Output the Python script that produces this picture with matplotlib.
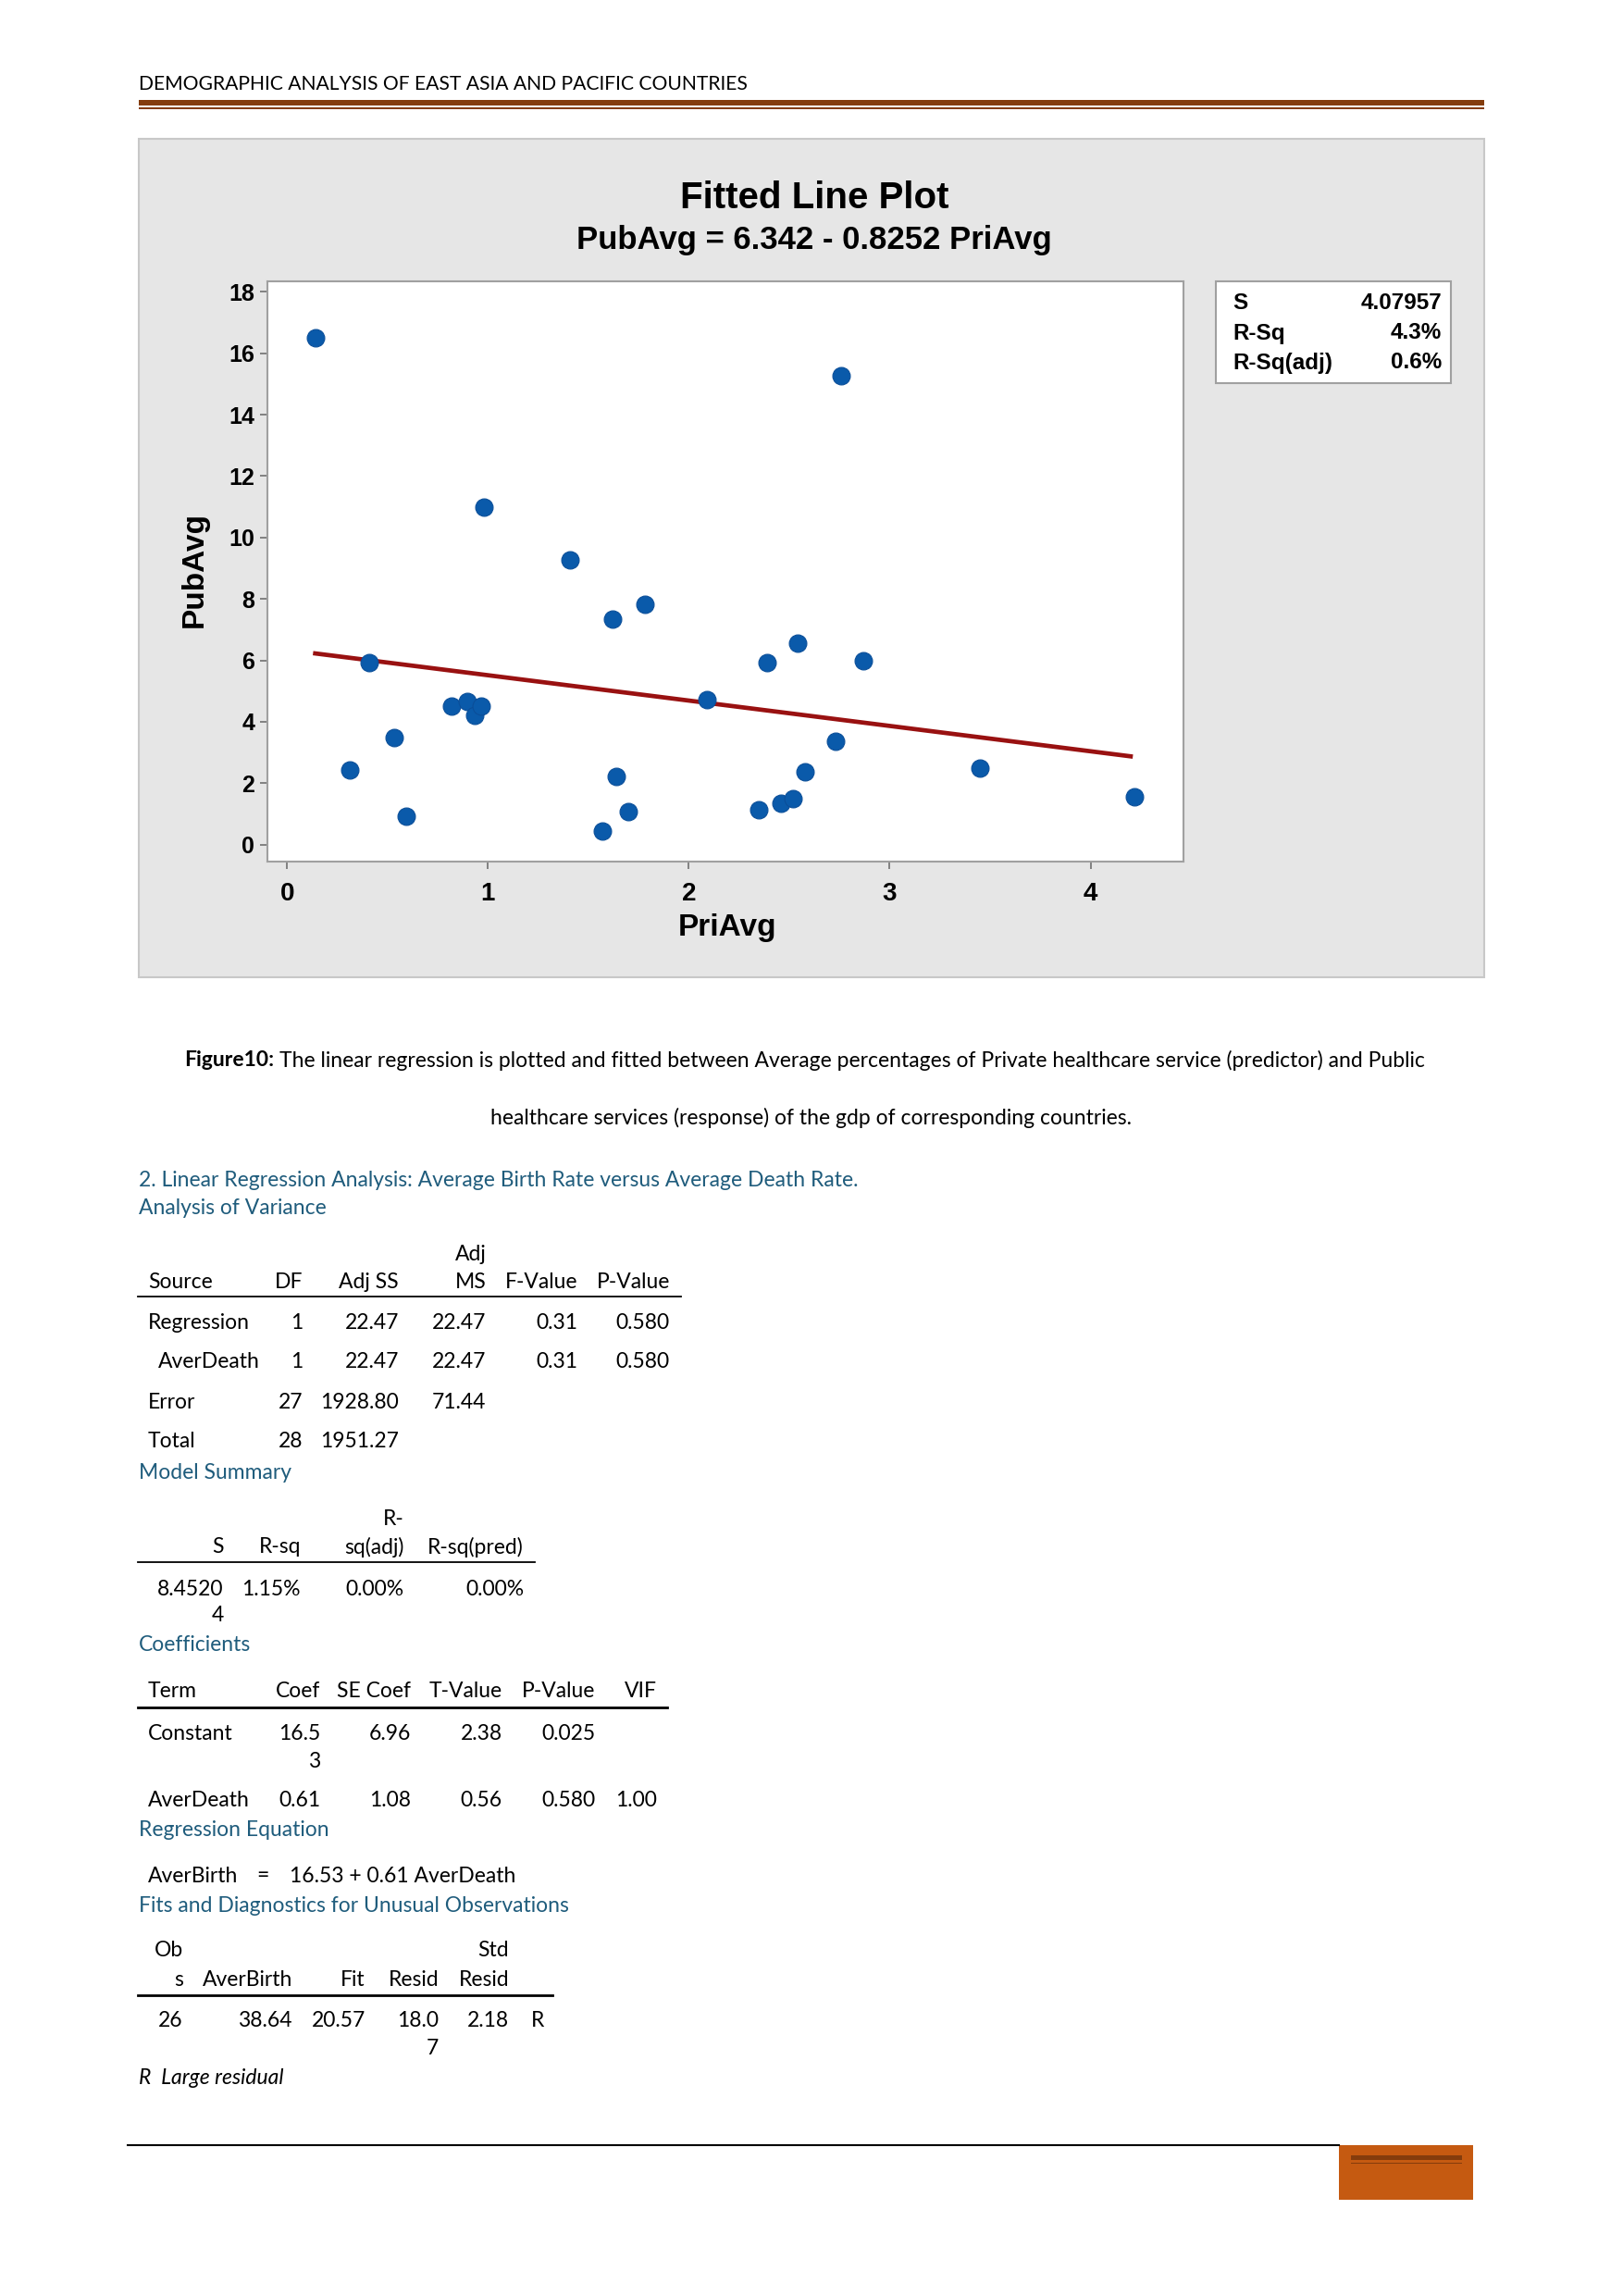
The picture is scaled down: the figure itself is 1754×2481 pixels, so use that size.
import matplotlib
matplotlib.use("Agg")
import matplotlib.pyplot as plt
from matplotlib.patches import Rectangle
import numpy as np

# scatter data
pri_avg = [0.14, 0.31, 0.41, 0.535, 0.595, 0.82, 0.896, 0.934, 0.968, 0.98,
           1.41, 1.57, 1.62, 1.64, 1.70, 1.78, 2.09, 2.35, 2.39, 2.46,
           2.52, 2.54, 2.58, 2.73, 2.76, 2.87, 3.45, 4.22]
pub_avg = [16.49, 2.42, 5.92, 3.49, 0.93, 4.50, 4.67, 4.20, 4.50, 11.0,
           9.27, 0.43, 7.35, 2.21, 1.07, 7.84, 4.72, 1.14, 5.92, 1.35,
           1.51, 6.57, 2.37, 3.36, 15.28, 5.99, 2.49, 1.56]
intercept = 6.342
slope = -0.8252
stats_labels = ["S", "R-Sq", "R-Sq(adj)"]
stats_values = ["4.07957", "4.3%", "0.6%"]

# tables from the page
anova_header = ["Source", "DF", "Adj SS", "MS", "F-Value", "P-Value"]
anova_rows = [["Regression", "1", "22.47", "22.47", "0.31", "0.580"],
              ["AverDeath", "1", "22.47", "22.47", "0.31", "0.580"],
              ["Error", "27", "1928.80", "71.44", "", ""],
              ["Total", "28", "1951.27", "", "", ""]]
summary_header = ["S", "R-sq", "sq(adj)", "R-sq(pred)"]
summary_row = ["8.4520", "1.15%", "0.00%", "0.00%"]
coef_header = ["Term", "Coef", "SE Coef", "T-Value", "P-Value", "VIF"]
coef_rows = [["Constant", "16.5", "6.96", "2.38", "0.025", ""],
             ["AverDeath", "0.61", "1.08", "0.56", "0.580", "1.00"]]
unusual_header = ["s", "AverBirth", "Fit", "Resid", "Resid"]
unusual_row = ["26", "38.64", "20.57", "18.0", "2.18"]

W, H = 1754, 2481
BODY = "Lato"
FS = 16.5
HEAD = "#1F5C7C"
CHART_FONT = "Liberation Sans"

fig = plt.figure(figsize=(W / 100, H / 100), dpi=100)
page = fig.add_axes([0, 0, 1, 1])
page.set_xlim(0, W)
page.set_ylim(H, 0)
page.axis("off")


def put(x, y, s, ha="left", size=FS, **kw):
    kw.setdefault("family", BODY)
    return page.text(x, y, s, ha=ha, va="center", fontsize=size, **kw)


# header
put(150, 91, "DEMOGRAPHIC ANALYSIS OF EAST ASIA AND PACIFIC COUNTRIES", size=15.2)
page.add_patch(Rectangle((150, 108), 1454, 6, color="#843C0C", lw=0))
page.add_patch(Rectangle((150, 115.5), 1454, 2, color="#843C0C", lw=0))

# grey chart frame
page.add_patch(Rectangle((150, 150), 1454, 906, facecolor="#E6E6E6",
                         edgecolor="#C8C8C8", lw=1.5))
put(880, 214, "Fitted Line Plot", ha="center", size=29, weight="bold", family=CHART_FONT)
put(880, 259, "PubAvg = 6.342 - 0.8252 PriAvg", ha="center", size=25,
    weight="bold", family=CHART_FONT)

# stats box
page.add_patch(Rectangle((1314, 304), 254, 110, facecolor="white",
                         edgecolor="#A0A0A0", lw=1.5))
for i, (lab, val) in enumerate(zip(stats_labels, stats_values)):
    yy = 328 + i * 32
    put(1332, yy, lab, size=17.5, weight="bold", family=CHART_FONT)
    put(1558, yy, val, ha="right", size=17.5, weight="bold", family=CHART_FONT)

# the scatter plot itself
ax = fig.add_axes([289 / W, 1 - 931 / H, (1279 - 289) / W, (931 - 304) / H])
ax.set_facecolor("white")
ax.scatter(pri_avg, pub_avg, s=185, color="#0A5AAA", edgecolor="#0A4E99",
           linewidth=0.8, zorder=3)
xf = np.array([min(pri_avg), 4.2])
ax.plot(xf, intercept + slope * xf, color="#991111", lw=3.4, zorder=2)
ax.set_xlim(-0.098, 4.463)
ax.set_ylim(-0.55, 18.34)
ax.set_xticks([0, 1, 2, 3, 4])
ax.set_yticks(range(0, 19, 2))
for sp in ax.spines.values():
    sp.set_color("#A0A0A0")
    sp.set_linewidth(1.5)
ax.tick_params(colors="#707070", length=6, width=1.2)
ax.tick_params(axis="x", pad=10)
ax.tick_params(axis="y", pad=4)
for lab in ax.get_xticklabels():
    lab.set_fontsize(20)
    lab.set_fontweight("bold")
    lab.set_family(CHART_FONT)
    lab.set_color("black")
for lab in ax.get_yticklabels():
    lab.set_fontsize(18)
    lab.set_fontweight("bold")
    lab.set_family(CHART_FONT)
    lab.set_color("black")
put(786, 1002, "PriAvg", ha="center", size=24, weight="bold", family=CHART_FONT)
page.text(210, 615, "PubAvg", ha="center", va="center", rotation=90,
          fontsize=24, weight="bold", family=CHART_FONT)

# caption
cap1 = "The linear regression is plotted and fitted between Average percentages of Private healthcare service (predictor) and Public"
t1 = put(199, 1146, "Figure10:", weight="bold")
fig.canvas.draw()
bb = t1.get_window_extent()
put(199 + bb.width + 6, 1146, cap1)
put(877, 1208, "healthcare services (response) of the gdp of corresponding countries.",
    ha="center")

# section headings and tables
put(150, 1276, "2. Linear Regression Analysis: Average Birth Rate versus Average Death Rate.",
    color=HEAD)
put(150, 1306, "Analysis of Variance", color=HEAD)

anova_x = [160, 327, 431, 525.5, 624, 724]
put(525.5, 1356, "Adj", ha="right")
for j, h in enumerate(anova_header):
    put(anova_x[j], 1386, h, ha="left" if j == 0 else "right")
page.plot([149, 736], [1401, 1401], color="black", lw=1.3)
for i, row in enumerate(anova_rows):
    yy = [1430, 1472, 1516, 1558][i]
    for j, v in enumerate(row):
        if j == 0:
            put(171 if v == "AverDeath" else 160, yy, v)
        else:
            put(anova_x[j], yy, v, ha="right")

put(150, 1592, "Model Summary", color=HEAD)
sum_x = [241.5, 325, 437, 566]
put(437, 1642, "R-", ha="right")
for j, h in enumerate(summary_header):
    put(sum_x[j], 1672, h, ha="right")
page.plot([149, 578], [1688, 1688], color="black", lw=1.3)
for j, v in enumerate(summary_row):
    put(sum_x[j], 1717, v, ha="right")
put(241.5, 1746, "4", ha="right")

put(150, 1778, "Coefficients", color=HEAD)
coef_x = [160, 346, 444, 543, 643, 709.5]
for j, h in enumerate(coef_header):
    put(coef_x[j], 1828, h, ha="left" if j == 0 else "right")
page.plot([149, 721], [1845, 1845], color="black", lw=2)
for i, row in enumerate(coef_rows):
    yy = [1873, 1946][i]
    for j, v in enumerate(row):
        put(coef_x[j], yy, v, ha="left" if j == 0 else "right")
put(346, 1903, "3", ha="right")

put(150, 1978, "Regression Equation", color=HEAD)
put(160, 2027, "AverBirth")
put(284, 2027, "=", ha="center")
put(313, 2027, "16.53 + 0.61 AverDeath")

put(150, 2059, "Fits and Diagnostics for Unusual Observations", color=HEAD)
unu_x = [198, 316, 395, 474, 550]
put(198, 2108, "Ob", ha="right")
put(550, 2108, "Std", ha="right")
for j, h in enumerate(unusual_header):
    put(unu_x[j], 2139, h, ha="right")
page.plot([149, 597], [2156, 2156], color="black", lw=2)
for j, v in enumerate(unusual_row):
    put(unu_x[j], 2184, v, ha="right")
put(574, 2184, "R")
put(474, 2214, "7", ha="right")
put(150, 2246, "R  Large residual", style="italic")

# footer
page.plot([138, 1447], [2318, 2318], color="black", lw=1.5)
page.add_patch(Rectangle((1447, 2318), 145, 59, color="#C55A11", lw=0))
page.add_patch(Rectangle((1460, 2329), 120, 5, color="#843C0C", lw=0))
page.add_patch(Rectangle((1460, 2336.5), 120, 1.2, color="#843C0C", lw=0))

fig.savefig("out.png", dpi=100)
